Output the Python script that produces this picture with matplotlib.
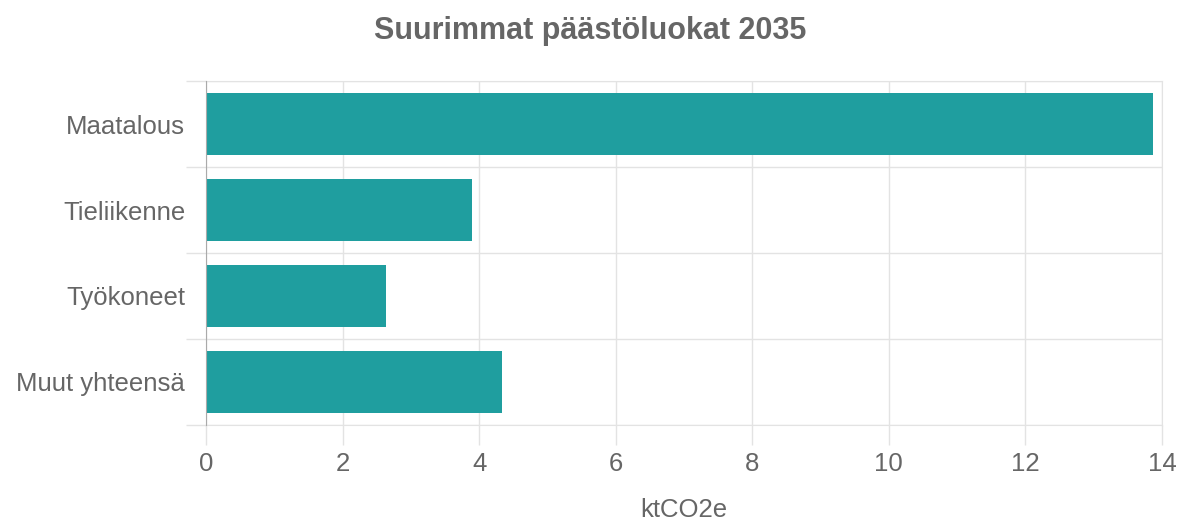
import numpy as np
import matplotlib.pyplot as plt
from matplotlib.ticker import FixedLocator

plt.rcParams['font.family'] = ['Liberation Sans', 'DejaVu Sans']

categories = ['Maatalous', 'Tieliikenne', 'Työkoneet', 'Muut yhteensä']
values = [13.87, 3.90, 2.64, 4.34]
x_ticks = [0, 2, 4, 6, 8, 10, 12, 14]

text_col = '#666666'
grid_col = '#e3e3e3'
bar_col = '#1f9e9f'

fig = plt.figure(figsize=(11.81, 5.24), dpi=100)
ax = fig.add_axes([206 / 1181, 1 - 425 / 524, 956 / 1181, 344 / 524])

pos = np.arange(len(categories))
ax.barh(pos, values, height=0.72, color=bar_col, zorder=3)

ax.set_xlim(0, 14)
ax.set_ylim(len(categories) - 0.5, -0.5)
ax.set_xticks(x_ticks)
ax.set_yticks(pos)
ax.set_yticklabels(categories)
ax.yaxis.set_minor_locator(FixedLocator(np.arange(-0.5, len(categories), 1.0)))

ax.grid(axis='x', which='major', color=grid_col, lw=1, zorder=0)
ax.grid(axis='y', which='minor', color=grid_col, lw=1, zorder=0)
ax.tick_params(axis='x', which='major', length=14.4, color=grid_col, width=1,
               labelsize=18.5, labelcolor=text_col, pad=5)
ax.tick_params(axis='y', which='major', length=0, labelsize=18.5, labelcolor=text_col, pad=15)
ax.tick_params(axis='y', which='minor', length=14.4, color=grid_col, width=1)

for s in ['top', 'right', 'bottom']:
    ax.spines[s].set_color(grid_col)
ax.spines['left'].set_color('#aaaaaa')
ax.spines['left'].set_zorder(4)

ax.set_xlabel('ktCO2e', fontsize=18.5, color=text_col, labelpad=16)
fig.text(0.5, 1 - 31 / 524, 'Suurimmat päästöluokat 2035', ha='center', va='center',
         fontsize=22, fontweight='bold', color=text_col)

fig.savefig('out.png', dpi=100)
